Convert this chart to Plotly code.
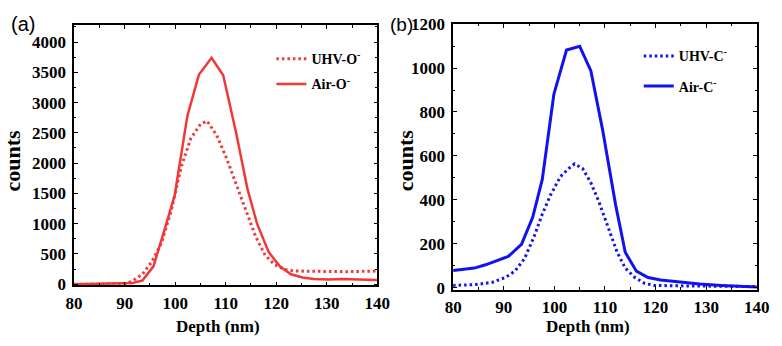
import plotly.graph_objects as go

# ---------- data (a): O- depth profiles ----------
uhv_o_x = [80, 90, 91.5, 93.5, 95.4, 97.3, 99.2, 101.2, 103.1, 105, 106.3, 108.2, 110.1,
           112.1, 114.0, 115.9, 117.8, 119.7, 121.7, 123.6, 126.2, 128.7, 131.3, 133.8, 140]
uhv_o_y = [0, 2, 50, 164, 373, 686, 1208, 1939, 2409, 2643, 2696, 2461, 2095,
           1652, 1208, 791, 478, 321, 243, 217, 215, 212, 206, 206, 217]
air_o_x = [80, 84, 90, 91.5, 93.5, 95.7, 97.6, 99.9, 102.4, 104.7, 107.2, 109.5, 112.1,
           114.3, 116.2, 118.5, 120.7, 122.9, 125.2, 127.4, 130.3, 133.2, 136.4, 140]
air_o_y = [0, 5, 8, 18, 60, 295, 817, 1469, 2774, 3463, 3740, 3452, 2487,
           1574, 999, 530, 295, 164, 112, 86, 76, 86, 76, 70]

# ---------- data (b): C- depth profiles ----------
uhv_c_x = [80, 84.5, 87.7, 90.3, 92.2, 94.1, 96, 97.6, 99.2, 101.2, 102.8, 104, 105.6,
           107.2, 108.8, 110.8, 112.4, 114, 115.9, 117.8, 119.7, 125, 130, 135, 140]
uhv_c_y = [10, 14, 24, 46, 75, 132, 233, 334, 420, 506, 542, 564, 542,
           478, 391, 262, 161, 89, 46, 20, 10, 8, 7, 6, 5]
air_c_x = [80, 84.2, 86.4, 89, 90.9, 93.5, 95.7, 97.6, 99.9, 102.4, 105, 107.2, 109.5,
           112.1, 114, 116.2, 118.5, 121, 124.9, 128.7, 133, 137, 140]
air_c_y = [78, 89, 104, 125, 142, 197, 319, 492, 881, 1082, 1099, 988, 722,
           377, 161, 75, 46, 35, 24, 16, 10, 6, 3]

x_ticks = [80, 90, 100, 110, 120, 130, 140]
y_ticks_a = [0, 500, 1000, 1500, 2000, 2500, 3000, 3500, 4000]
y_ticks_b = [0, 200, 400, 600, 800, 1000, 1200]

RED = "#f03838"
BLUE = "#1212ee"
W, H = 782, 346

fig = go.Figure()
fig.add_trace(go.Scatter(x=uhv_o_x, y=uhv_o_y, mode="lines", name="UHV-O<sup>-</sup>",
                         line=dict(color=RED, width=3, dash="2.5px,3px"),
                         xaxis="x", yaxis="y", legend="legend", legendgroup="a1"))
fig.add_trace(go.Scatter(x=air_o_x, y=air_o_y, mode="lines", name="Air-O<sup>-</sup>",
                         line=dict(color=RED, width=2.5),
                         xaxis="x", yaxis="y", legend="legend", legendgroup="a2"))
fig.add_trace(go.Scatter(x=uhv_c_x, y=uhv_c_y, mode="lines", name="UHV-C<sup>-</sup>",
                         line=dict(color=BLUE, width=3, dash="2.5px,3px"),
                         xaxis="x2", yaxis="y2", legend="legend2", legendgroup="b1"))
fig.add_trace(go.Scatter(x=air_c_x, y=air_c_y, mode="lines", name="Air-C<sup>-</sup>",
                         line=dict(color=BLUE, width=3),
                         xaxis="x2", yaxis="y2", legend="legend2", legendgroup="b2"))

tickfont = dict(family="Liberation Serif", size=17, color="black", weight="bold")

def xa(domain, anchor):
    return dict(domain=domain, anchor=anchor, range=[80, 140], tickvals=x_ticks,
                ticks="inside", ticklen=4, tickwidth=1.3, tickcolor="black",
                showline=True, linecolor="black", linewidth=1.6, mirror="allticks",
                showgrid=False, zeroline=False, tickfont=tickfont, ticklabelstandoff=1,
                minor=dict(dtick=5, tick0=80, ticks="inside", ticklen=2.5, tickcolor="black",
                           showgrid=False))

def ya(domain, anchor, rng, vals, minor):
    return dict(domain=domain, anchor=anchor, range=rng, tickvals=vals,
                ticks="inside", ticklen=4, tickwidth=1.3, tickcolor="black",
                showline=True, linecolor="black", linewidth=1.6, mirror="allticks",
                showgrid=False, zeroline=False, tickfont=tickfont, ticklabelstandoff=3,
                minor=dict(dtick=minor, tick0=0, ticks="inside", ticklen=2.5, tickcolor="black",
                           showgrid=False))

fig.update_layout(
    width=W, height=H, margin=dict(l=0, r=0, t=0, b=0),
    paper_bgcolor="white", plot_bgcolor="white",
    xaxis=xa([67 / W, 379 / W], "y"),
    yaxis=ya([1 - 291.5 / H, 1 - 17.3 / H], "x", [-19, 4275], y_ticks_a, 250),
    xaxis2=xa([457 / W, 769.5 / W], "y2"),
    yaxis2=ya([1 - 296 / H, 1 - 16 / H], "x2", [-9, 1200], y_ticks_b, 100),
    legend=dict(x=270 / W, y=1 - 36 / H, xanchor="left", yanchor="top",
                bgcolor="rgba(0,0,0,0)", traceorder="grouped", tracegroupgap=4,
                font=dict(family="Liberation Serif", size=14, color="black", weight="bold")),
    legend2=dict(x=648 / W, y=1 - 33 / H, xanchor="left", yanchor="top",
                 bgcolor="rgba(0,0,0,0)", traceorder="grouped", tracegroupgap=9,
                 font=dict(family="Liberation Serif", size=14, color="black", weight="bold")),
    annotations=[
        dict(text="(a)", x=0 / W, y=1 - 16 / H, xref="paper", yref="paper", xanchor="left",
             yanchor="middle", showarrow=False,
             font=dict(family="Liberation Sans", size=20, color="black")),
        dict(text="(b)", x=390 / W, y=1 - 16 / H, xref="paper", yref="paper", xanchor="left",
             yanchor="middle", showarrow=False,
             font=dict(family="Liberation Sans", size=19, color="black")),
        dict(text="Depth (nm)", x=215 / W, y=1 - 335 / H, xref="paper", yref="paper",
             xanchor="center", yanchor="middle", showarrow=False,
             font=dict(family="Liberation Serif", size=17, color="black", weight="bold")),
        dict(text="Depth (nm)", x=596 / W, y=1 - 335 / H, xref="paper", yref="paper",
             xanchor="center", yanchor="middle", showarrow=False,
             font=dict(family="Liberation Serif", size=17, color="black", weight="bold")),
        dict(text="counts", x=4 / W, y=1 - 160 / H, xref="paper", yref="paper", textangle=-90,
             xanchor="center", yanchor="middle", showarrow=False,
             font=dict(family="Liberation Serif", size=22, color="black", weight="bold")),
        dict(text="counts", x=408 / W, y=1 - 160 / H, xref="paper", yref="paper", textangle=-90,
             xanchor="center", yanchor="middle", showarrow=False,
             font=dict(family="Liberation Serif", size=22, color="black", weight="bold")),
    ],
)

fig.write_html("out.html")
